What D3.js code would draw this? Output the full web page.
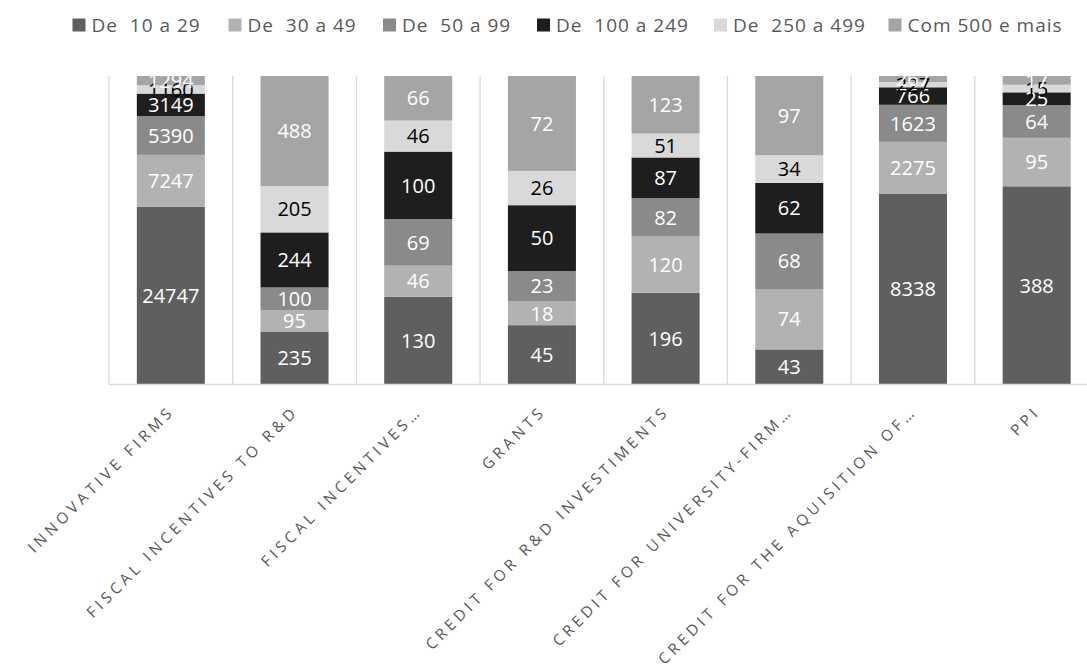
<!DOCTYPE html>
<html><head><meta charset="utf-8">
<script src="https://cdn.jsdelivr.net/npm/d3@7"></script>
<style>body{margin:0;background:#fff}svg{display:block}</style>
</head><body>
<svg id="c" width="1087" height="671"></svg>
<script>
const categories = ["INNOVATIVE FIRMS","FISCAL INCENTIVES TO R&D","FISCAL INCENTIVES…","GRANTS","CREDIT FOR R&D INVESTIMENTS","CREDIT FOR UNIVERSITY-FIRM…","CREDIT FOR THE AQUISITION OF…","PPI"];
const seriesNames = ["De  10 a 29","De  30 a 49","De  50 a 99","De  100 a 249","De  250 a 499","Com 500 e mais"];
const s10_29   = [24747, 235, 130, 45, 196, 43, 8338, 388];
const s30_49   = [7247, 95, 46, 18, 120, 74, 2275, 95];
const s50_99   = [5390, 100, 69, 23, 82, 68, 1623, 64];
const s100_249 = [3149, 244, 100, 50, 87, 62, 766, 25];
const s250_499 = [1160, 205, 46, 26, 51, 34, 227, 15];
const s500     = [1294, 488, 66, 72, 123, 97, 267, 17];
const seriesValues = [s10_29, s30_49, s50_99, s100_249, s250_499, s500];
const colors = ["#5f5f5f","#b2b2b2","#8a8a8a","#1e1e1e","#d9d9d9","#a5a5a5"];
const labelColors = ["#fff","#fff","#fff","#fff","#000","#fff"];

const svg = d3.select("#c");
const pTop = 76, pBottom = 384.5, pLeft = 109, pRight = 1098.5;
const x = d3.scaleBand().domain(categories).range([pLeft, pRight]).paddingInner(0.45).paddingOuter(0.225);
const band = (pRight-pLeft)/categories.length;
const y = d3.scaleLinear().domain([0,1]).range([pBottom, pTop]);

const g = svg.append("g");
for (let i=0;i<=categories.length;i++){
  g.append("line").attr("x1",pLeft+i*band).attr("x2",pLeft+i*band).attr("y1",pTop).attr("y2",pBottom)
   .attr("stroke","#d9d9d9").attr("stroke-width",1.3);
}

const rows = categories.map((c,i)=>{const o={cat:c};seriesNames.forEach((s,j)=>o[s]=seriesValues[j][i]);return o;});
const stack = d3.stack().keys(seriesNames).offset(d3.stackOffsetExpand)(rows);

stack.forEach((layer,j)=>{
  svg.append("g").selectAll("rect").data(layer).join("rect")
    .attr("x",d=>x(d.data.cat)).attr("width",x.bandwidth())
    .attr("y",d=>y(d[1])).attr("height",d=>y(d[0])-y(d[1]))
    .attr("fill",colors[j]);
});
stack.forEach((layer,j)=>{
  svg.append("g").selectAll("text").data(layer).join("text")
    .attr("x",d=>x(d.data.cat)+x.bandwidth()/2)
    .attr("y",d=>(y(d[0])+y(d[1]))/2)
    .attr("dy","0.36em").attr("text-anchor","middle")
    .attr("font-family","Open Sans, sans-serif").attr("font-size",20)
    .attr("fill",labelColors[j])
    .text(d=>d.data[seriesNames[j]]);
});

svg.append("line").attr("x1",pLeft).attr("x2",pRight).attr("y1",pBottom).attr("y2",pBottom).attr("stroke","#d9d9d9").attr("stroke-width",1.3);

svg.append("g").selectAll("text").data(categories).join("text")
  .attr("transform",d=>`translate(${x(d)+x.bandwidth()/2+1},${pBottom+24}) rotate(-45)`)
  .attr("text-anchor","end").attr("dy","0.35em")
  .attr("font-family","Open Sans, sans-serif").attr("font-size",15.3)
  .attr("letter-spacing","4px")
  .attr("fill","#595959").text(d=>d);

const legX = [72.5,228.5,383,537,714,888.5];
const lg = svg.append("g");
seriesNames.forEach((s,j)=>{
  lg.append("rect").attr("x",legX[j]).attr("y",18.5).attr("width",13).attr("height",13).attr("fill",colors[j]);
  lg.append("text").attr("x",legX[j]+19).attr("y",31.5)
    .attr("font-family","Open Sans, sans-serif").attr("font-size",19)
    .attr("letter-spacing","1px")
    .attr("fill","#595959").attr("xml:space","preserve").style("white-space","pre").text(s);
});
</script>
</body></html>
